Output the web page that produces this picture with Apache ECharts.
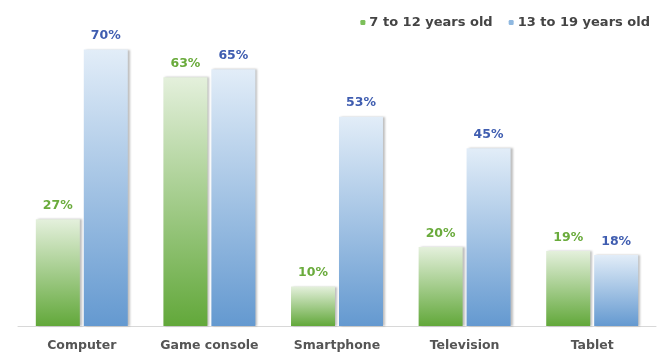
<!DOCTYPE html>
<html><head><meta charset="utf-8">
<script src="https://cdn.jsdelivr.net/npm/echarts@6/dist/echarts.min.js"></script>
<style>html,body{margin:0;padding:0;background:#fff}#c{width:658px;height:354px}</style>
</head><body><div id="c"></div>
<script>
const categories = ["Computer", "Game console", "Smartphone", "Television", "Tablet"];
const seriesNames = ["7 to 12 years old", "13 to 19 years old"];
const kids = [27, 63, 10, 20, 19];
const teens = [70, 65, 53, 45, 18];

const green = new echarts.graphic.LinearGradient(0,0,0,1,[{offset:0,color:'#e4f0dc'},{offset:1,color:'#62a83a'}]);
const blue = new echarts.graphic.LinearGradient(0,0,0,1,[{offset:0,color:'#e2edf8'},{offset:1,color:'#6499d0'}]);
const chart = echarts.init(document.getElementById('c'));
chart.setOption({
  animation:false,
  textStyle:{fontFamily:'DejaVu Sans, Verdana, sans-serif'},
  legend:{
    right:3, top:11, itemWidth:5, itemHeight:5, itemGap:16,
    textStyle:{color:'#444', fontWeight:'bold', fontSize:13, padding:[0,0,0,-1]},
    data:[{name:seriesNames[0], itemStyle:{color:'#7cbf5a'}},{name:seriesNames[1], itemStyle:{color:'#8fb8e0'}}]
  },
  grid:{left:18, right:2, top:10, bottom:28},
  xAxis:{type:'category', data:categories,
    axisLine:{lineStyle:{color:'#d8d8d8'}}, axisTick:{show:false},
    axisLabel:{interval:0, color:'#555', fontWeight:'bold', fontSize:12.5, margin:13}},
  yAxis:{type:'value', min:0, max:80, show:false, splitLine:{show:false}},
  series:[
    {name:seriesNames[0], type:'bar', data:kids, barWidth:44, barGap:'9%',
     itemStyle:{color:green, shadowColor:'rgba(0,0,0,0.25)', shadowOffsetX:2, shadowBlur:2},
     label:{show:true, position:'top', formatter:'{c}%', color:'#6aab3c', fontWeight:'bold', fontSize:12.5, distance:7}},
    {name:seriesNames[1], type:'bar', data:teens, barWidth:44,
     itemStyle:{color:blue, shadowColor:'rgba(0,0,0,0.25)', shadowOffsetX:2, shadowBlur:2},
     label:{show:true, position:'top', formatter:'{c}%', color:'#3f5db0', fontWeight:'bold', fontSize:12.5, distance:7}}
  ]
});
</script></body></html>
